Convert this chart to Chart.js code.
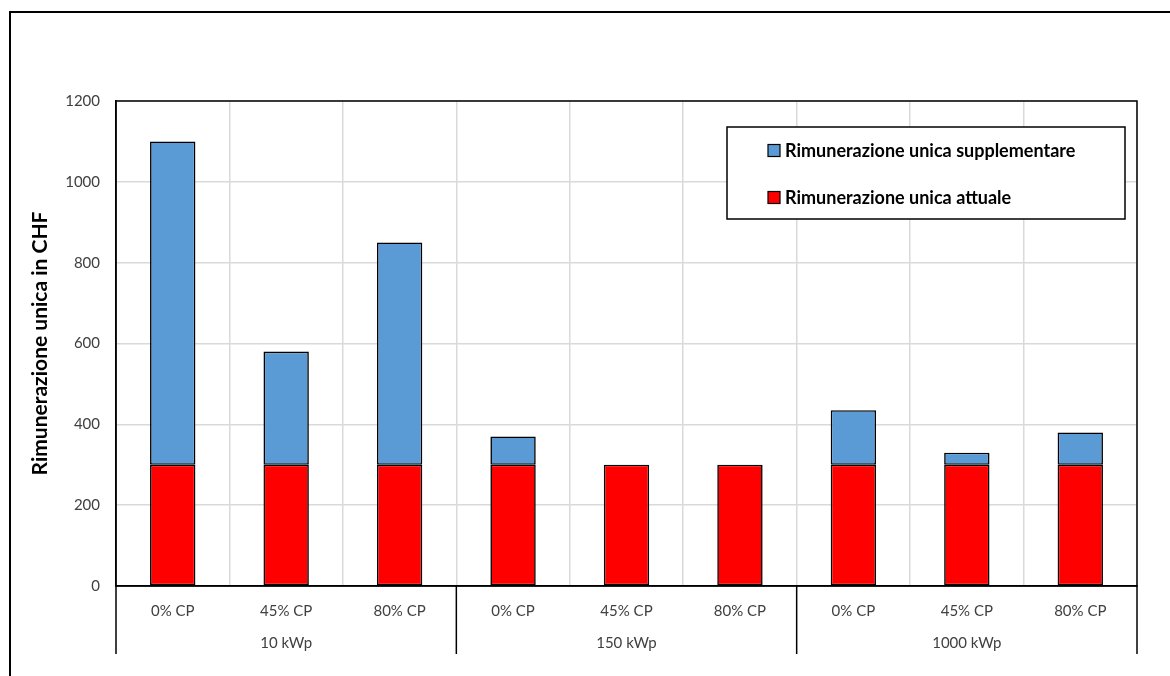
<!DOCTYPE html>
<html>
<head>
<meta charset="utf-8">
<script src="https://cdn.jsdelivr.net/npm/chart.js@4"></script>
<style>
  html, body { margin: 0; padding: 0; background: #fff; }
  #wrap { width: 1170px; height: 676px; position: relative; }
</style>
</head>
<body>
<div id="wrap"><canvas id="c" width="1170" height="676"></canvas></div>
<script>
// Sub-categories (per plant size) and the plant-size groups below them
const categories = ['0% CP', '45% CP', '80% CP', '0% CP', '45% CP', '80% CP', '0% CP', '45% CP', '80% CP'];
const groups = ['10 kWp', '150 kWp', '1000 kWp'];
const groupSize = 3;

// One-off remuneration in CHF
const attuale = [300, 300, 300, 300, 300, 300, 300, 300, 300];
const supplementare = [800, 280, 550, 70, 0, 0, 135, 30, 80];

const yTicks = [0, 200, 400, 600, 800, 1000, 1200];

const seriesNames = ['Rimunerazione unica attuale', 'Rimunerazione unica supplementare'];
const seriesColors = ['#FF0000', '#5B9BD5'];

const FONT = 'Lato, "Open Sans", sans-serif';
const TEXT = '#404040';

const decorations = {
  id: 'decorations',
  beforeDraw(chart) {
    const ctx = chart.ctx;
    ctx.save();
    ctx.fillStyle = '#fff';
    ctx.fillRect(0, 0, chart.width, chart.height);
    ctx.restore();
  },
  afterDraw(chart) {
    const ctx = chart.ctx;
    const a = chart.chartArea;
    const x = chart.scales.x;
    ctx.save();

    // outer frame (top and left edges)
    ctx.strokeStyle = '#000';
    ctx.lineWidth = 2;
    ctx.beginPath();
    ctx.moveTo(10, 676);
    ctx.lineTo(10, 12);
    ctx.lineTo(1170, 12);
    ctx.stroke();

    // plot area border
    ctx.lineWidth = 1.5;
    ctx.strokeStyle = '#000';
    ctx.strokeRect(a.left, a.top, a.right - a.left, a.bottom - a.top);

    // group separators and group labels under the category labels
    const edges = [];
    for (let g = 0; g <= groups.length; g++) {
      const i = g * groupSize;
      if (i === 0) edges.push(a.left);
      else if (i >= categories.length) edges.push(a.right);
      else edges.push((x.getPixelForValue(i - 1) + x.getPixelForValue(i)) / 2);
    }
    ctx.strokeStyle = '#000';
    ctx.lineWidth = 1.5;
    edges.forEach(px => {
      ctx.beginPath();
      ctx.moveTo(px, a.bottom);
      ctx.lineTo(px, 654);
      ctx.stroke();
    });
    ctx.fillStyle = TEXT;
    ctx.font = '15px ' + FONT;
    ctx.textAlign = 'center';
    ctx.textBaseline = 'middle';
    groups.forEach((name, g) => {
      const first = x.getPixelForValue(g * groupSize);
      const last = x.getPixelForValue(g * groupSize + groupSize - 1);
      ctx.fillText(name, (first + last) / 2, 643);
    });

    // legend box
    ctx.fillStyle = '#fff';
    ctx.fillRect(727, 127, 398, 92);
    ctx.strokeStyle = '#000';
    ctx.lineWidth = 1.5;
    ctx.strokeRect(727, 127, 398, 92);
    const order = [1, 0];
    const rows = [150.5, 197.5];
    ctx.font = 'bold 18px ' + FONT;
    ctx.textAlign = 'left';
    ctx.textBaseline = 'middle';
    order.forEach((di, r) => {
      const ds = chart.data.datasets[di];
      ctx.fillStyle = ds.backgroundColor;
      ctx.fillRect(768, rows[r] - 6, 12, 12);
      ctx.lineWidth = 1.2;
      ctx.strokeStyle = '#000';
      ctx.strokeRect(768, rows[r] - 6, 12, 12);
      ctx.fillStyle = '#000';
      ctx.fillText(ds.label, 785, rows[r] + 1);
    });
    ctx.restore();
  }
};

new Chart(document.getElementById('c'), {
  type: 'bar',
  data: {
    labels: categories,
    datasets: [
      { label: seriesNames[0], data: attuale, backgroundColor: seriesColors[0] },
      { label: seriesNames[1], data: supplementare, backgroundColor: seriesColors[1] }
    ].map(d => Object.assign(d, {
      borderColor: '#000',
      borderWidth: 1.6,
      borderSkipped: false,
      barPercentage: 0.4,
      categoryPercentage: 1.0
    }))
  },
  options: {
    responsive: false,
    animation: false,
    devicePixelRatio: 1,
    layout: { padding: { left: 0, top: 101, right: 33, bottom: 0 } },
    plugins: {
      legend: { display: false },
      tooltip: { enabled: false }
    },
    scales: {
      x: {
        stacked: true,
        grid: { color: '#d9d9d9', lineWidth: 1.5, offset: true, drawTicks: false },
        border: { display: true, color: '#000', width: 1.5 },
        ticks: { color: TEXT, font: { family: FONT, size: 15 }, padding: 16, maxRotation: 0, autoSkip: false },
        afterFit(s) { s.height = 90; }
      },
      y: {
        stacked: true,
        min: 0,
        max: 1200,
        afterBuildTicks(s) { s.ticks = yTicks.map(v => ({ value: v })); },
        grid: { color: '#d9d9d9', lineWidth: 1.5, drawTicks: false },
        border: { display: true, color: '#000', width: 1.5 },
        ticks: { color: TEXT, font: { family: FONT, size: 15 }, padding: 16, callback: v => String(v) },
        title: {
          display: true,
          text: 'Rimunerazione unica in CHF',
          color: '#000',
          font: { family: FONT, size: 21, weight: 'bold' },
          padding: { top: 28, bottom: 0 }
        },
        afterFit(s) { s.width = 116; }
      }
    }
  },
  plugins: [decorations]
});
</script>
</body>
</html>
